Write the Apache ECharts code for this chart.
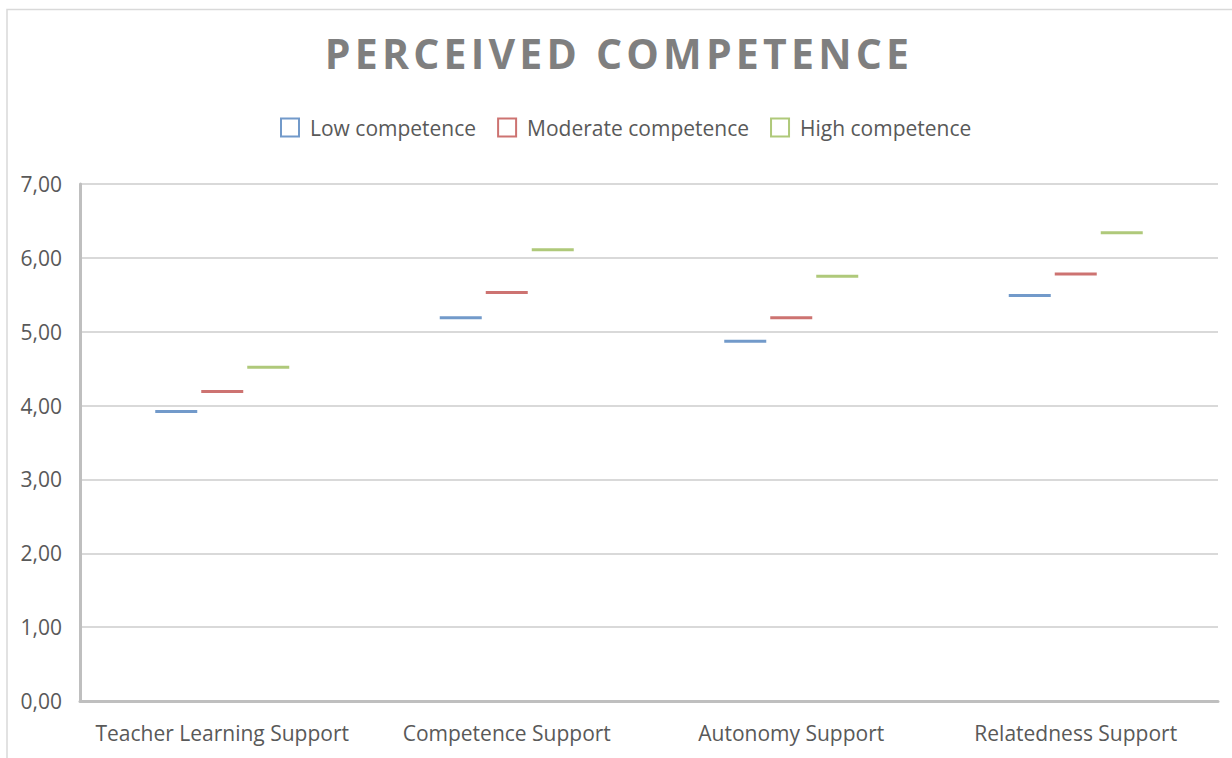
<!DOCTYPE html>
<html>
<head>
<meta charset="utf-8">
<script src="https://cdn.jsdelivr.net/npm/echarts@6/dist/echarts.min.js"></script>
<style>
  html, body { margin: 0; padding: 0; background: #fff; }
  #chart { width: 1232px; height: 758px; }
</style>
</head>
<body>
<div id="chart"></div>
<script>
// values
var categories = ['Teacher Learning Support', 'Competence Support', 'Autonomy Support', 'Relatedness Support'];
var seriesNames = ['Low competence', 'Moderate competence', 'High competence'];
var lowValues = [3.92, 5.19, 4.87, 5.49];
var moderateValues = [4.19, 5.53, 5.19, 5.78];
var highValues = [4.52, 6.11, 5.75, 6.34];
var yTicks = [0, 1, 2, 3, 4, 5, 6, 7];

var colors = ['#4f81bd', '#c0504d', '#9bbb59'];
var offsets = [-46, 0, 46];
var font = '"Open Sans", "Noto Sans", sans-serif';

function dashSeries(name, values, i) {
    return {
        name: name,
        type: 'scatter',
        data: values,
        symbol: 'rect',
        symbolSize: [42, 3],
        symbolOffset: [offsets[i], 0],
        itemStyle: { color: colors[i] },
        emphasis: { disabled: true },
        z: 3
    };
}

var chart = echarts.init(document.getElementById('chart'), null, { renderer: 'svg' });
chart.setOption({
    animation: false,
    backgroundColor: '#fff',
    title: {
        text: 'PERCEIVED COMPETENCE',
        left: 'center',
        top: 27,
        textStyle: { fontFamily: font, fontSize: 41, fontWeight: 'bold', color: '#7f7f7f' }
    },
    legend: {
        top: 112,
        left: 275,
        itemWidth: 18,
        itemHeight: 18,
        itemGap: 21,
        textStyle: { fontFamily: font, fontSize: 21, color: '#595959', padding: [0, 0, 0, 6] },
        data: seriesNames.map(function (n, i) {
            return { name: n, icon: 'rect', itemStyle: { color: '#fff', borderColor: colors[i], borderWidth: 2 } };
        })
    },
    grid: { left: 80, right: 14, top: 184, bottom: 57, containLabel: false },
    xAxis: {
        type: 'category',
        data: categories,
        axisLine: { lineStyle: { color: '#bfbfbf', width: 3 } },
        axisTick: { show: false },
        axisLabel: { interval: 0, fontFamily: font, fontSize: 21, color: '#595959', margin: 21 }
    },
    yAxis: {
        type: 'value',
        min: yTicks[0],
        max: yTicks[yTicks.length - 1],
        interval: 1,
        axisLine: { show: true, lineStyle: { color: '#bfbfbf', width: 3 } },
        axisTick: { show: false },
        splitLine: { lineStyle: { color: '#d9d9d9', width: 2 } },
        axisLabel: {
            fontFamily: font, fontSize: 21, color: '#595959', margin: 18,
            formatter: function (v) { return v.toFixed(2).replace('.', ','); }
        }
    },
    graphic: [{
        type: 'rect',
        shape: { x: 7, y: 9.5, width: 1240, height: 770 },
        style: { fill: 'none', stroke: '#d9d9d9', lineWidth: 1.5 },
        silent: true
    }],
    series: [
        dashSeries(seriesNames[0], lowValues, 0),
        dashSeries(seriesNames[1], moderateValues, 1),
        dashSeries(seriesNames[2], highValues, 2)
    ]
});

// spread the title letters like the original
document.querySelectorAll('#chart text').forEach(function (t) {
    if (t.textContent === 'PERCEIVED COMPETENCE') {
        t.style.letterSpacing = '4.2px';
        t.setAttribute('x', parseFloat(t.getAttribute('x') || 0) + 3);
    }
});
</script>
</body>
</html>
